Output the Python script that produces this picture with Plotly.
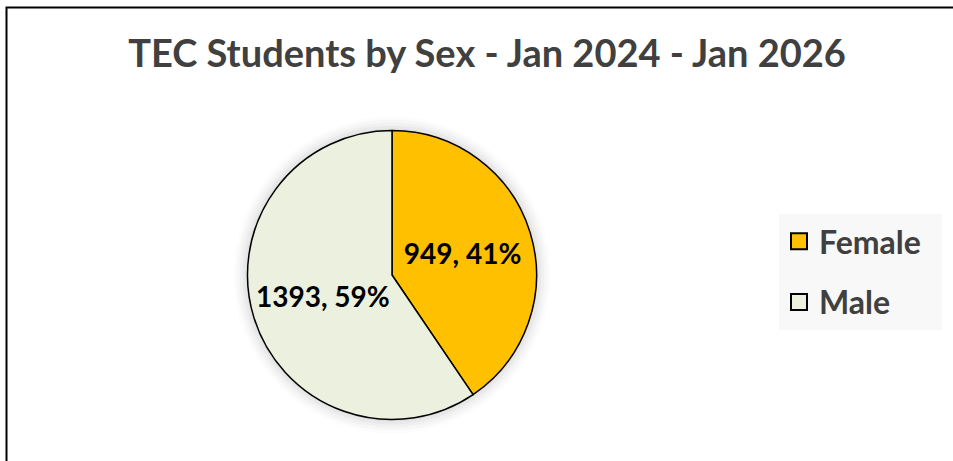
import plotly.graph_objects as go

labels = ["Female", "Male"]
values = [949, 1393]
colors = ["#FFC000", "#EBF1DE"]
title_text = "TEC Students by Sex - Jan 2024 - Jan 2026"

W, H = 953, 461
cx, cy, r = 392, 275, 144.5

fig = go.Figure()
fig.add_trace(go.Pie(
    labels=labels, values=values, sort=False, direction="clockwise", rotation=0,
    marker=dict(colors=colors, line=dict(color="black", width=1.5)),
    texttemplate="%{value}, %{percent:.0%}",
    textposition="inside", insidetextorientation="horizontal",
    textfont=dict(family="Lato", size=28, color="black", weight="bold"),
    domain=dict(x=[(cx - r) / W, (cx + r) / W], y=[(H - cy - r) / H, (H - cy + r) / H]),
    hoverinfo="skip", showlegend=False,
))

# legend entries (square swatches) for each category
for lab, col in zip(labels, colors):
    fig.add_trace(go.Scatter(
        x=[None], y=[None], mode="markers", name=lab + "\u00a0\u00a0", legendgroup=lab,
        marker=dict(symbol="square", size=16, color=col, line=dict(color="black", width=2)),
        hoverinfo="skip",
    ))

shapes = []
# soft shadow around the pie
for dr, a in [(14, 0.012), (11, 0.018), (8, 0.024), (5, 0.03), (2, 0.035)]:
    rr = r + dr
    shapes.append(dict(type="circle", xref="paper", yref="paper", layer="below",
                       x0=(cx - rr) / W, x1=(cx + rr) / W,
                       y0=(H - cy - rr) / H, y1=(H - cy + rr) / H,
                       fillcolor=f"rgba(0,0,0,{a})", line=dict(width=0)))
# chart frame (top and left edges visible)
shapes.append(dict(type="rect", xref="paper", yref="paper",
                   x0=6.5 / W, x1=1.05, y0=-0.05, y1=1 - 7.5 / H,
                   line=dict(color="black", width=2), fillcolor="rgba(0,0,0,0)"))

fig.update_layout(
    width=W, height=H, margin=dict(l=0, r=0, t=0, b=0),
    paper_bgcolor="white", plot_bgcolor="white",
    xaxis=dict(visible=False), yaxis=dict(visible=False),
    title=dict(text=title_text, x=487 / W, xanchor="center",
               y=1 - 54 / H, yanchor="middle",
               font=dict(family="Lato", size=38, color="#404040", weight="bold")),
    legend=dict(x=779 / W, xanchor="left", y=1 - 214 / H, yanchor="top",
                bgcolor="#F8F8F8", borderwidth=0,
                font=dict(family="Lato", size=32, color="#404040", weight="bold"),
                itemsizing="trace", tracegroupgap=16, itemwidth=30),
    shapes=shapes,
)
fig.write_html("out.html")
